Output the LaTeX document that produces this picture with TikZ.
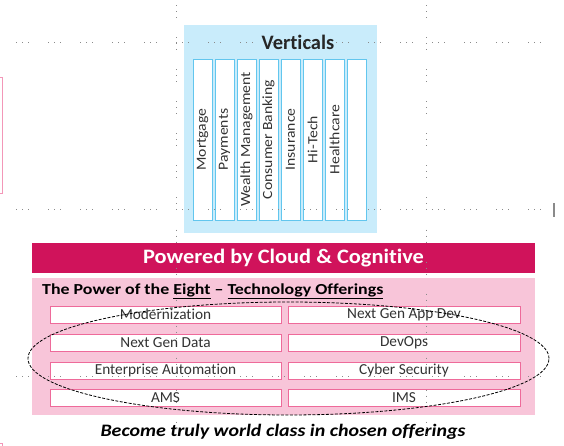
\documentclass[tikz,border=0pt]{standalone}
\usepackage{fontspec}
\setmainfont{Carlito}[Ligatures={NoCommon}]
\usetikzlibrary{shapes.geometric}
\definecolor{vbg}{HTML}{C9ECFB}
\definecolor{vline}{HTML}{62C6EE}
\definecolor{banner}{HTML}{D0135B}
\definecolor{pinkbg}{HTML}{F8C5D9}
\definecolor{pinkline}{HTML}{EE6A9A}
\definecolor{txt}{HTML}{333333}
\definecolor{guide}{HTML}{8A8A8A}
\tikzset{
  stripbox/.style={draw=vline, fill=white, line width=0.8pt, inner sep=0pt,
    minimum width=161pt, minimum height=19pt, rotate=90, text=txt,
    font=\fontsize{14}{15}\selectfont},
  offerbox/.style={draw=pinkline, fill=white, line width=0.8pt, inner sep=0pt,
    minimum height=17pt, text=txt, font=\fontsize{15.3}{16}\selectfont},
  guideline/.style={guide, line width=1pt,
    dash pattern=on 1pt off 5pt on 1pt off 5pt on 1pt off 19pt},
}
\begin{document}
\begin{tikzpicture}[x=1pt,y=-1pt]
\useasboundingbox (0,0) rectangle (564,446);
% verticals panel
\node[fill=vbg, inner sep=0pt, minimum width=193pt, minimum height=208pt, anchor=north west] (vpanel) at (184,25) {};
\node[font=\bfseries\fontsize{20.5}{22}\selectfont, text=black!85] (vtitle) at (298,42) {Verticals};
\foreach \i/\lab in {0/Mortgage,1/Payments,2/Wealth Management,3/Consumer Banking,4/Insurance,5/Hi-Tech,6/Healthcare,7/{}} {
  \node[stripbox] (s\i) at (202.5+22*\i,139.5) {\scalebox{1.12}[1]{\lab}};
}
% powered banner
\node[fill=banner, inner sep=0pt, minimum width=503pt, minimum height=30pt, text=white,
  font=\bfseries\fontsize{20.5}{22}\selectfont] (banner) at (283.5,258) {\scalebox{1.09}[1]{Powered by Cloud \& Cognitive}};
% pink panel
\node[fill=pinkbg, inner sep=0pt, minimum width=503pt, minimum height=137pt, anchor=north west] (ppanel) at (32,278) {};
\node[anchor=west, inner sep=0pt, font=\bfseries\fontsize{15.3}{17}\selectfont] (phead) at (42,291)
  {\scalebox{1.17}[1]{The Power of the \underline{Eight} – \underline{Technology Offerings}}};
\foreach \r/\y/\a/\b in {1/314.5/Modernization/Next Gen App Dev,2/343/Next Gen Data/DevOps,3/370.5/Enterprise Automation/Cyber Security,4/397.5/AMS/IMS} {
  \node[offerbox, minimum width=231pt] (l\r) at (165.5,\y) {\a};
  \node[offerbox, minimum width=232pt] (r\r) at (404,\y) {\b};
}
\node[draw, ellipse, dashed, dash pattern=on 3pt off 1.5pt, line width=0.8pt, inner sep=0pt,
  minimum width=521pt, minimum height=113pt] (oval) at (288.5,358.5) {};
\node[font=\bfseries\itshape\fontsize{17.5}{19}\selectfont] (motto) at (283,432) {\scalebox{1.14}[1]{Become truly world class in chosen offerings}};
% slide guides and stray marks
\draw[pinkline!70, line width=1pt] (-5,78) rectangle (2.5,194);
\draw[pinkline!70, line width=1pt] (-5,443) rectangle (2.5,452);
\fill[guide] (553,203) rectangle (555,217);
\coordinate (g1a) at (16.2,43); \coordinate (g1b) at (556,43);
\coordinate (g2a) at (16.2,210); \coordinate (g2b) at (556,210);
\coordinate (g3a) at (16.2,376); \coordinate (g3b) at (556,376);
\coordinate (g4a) at (176,5.5); \coordinate (g4b) at (176,446);
\coordinate (g5a) at (426,5.5); \coordinate (g5b) at (426,446);
\draw[guideline] (g1a) -- (g1b);
\draw[guideline] (g2a) -- (g2b);
\draw[guideline] (g3a) -- (g3b);
\draw[guideline] (g4a) -- (g4b);
\draw[guideline] (g5a) -- (g5b);
\end{tikzpicture}
\end{document}
